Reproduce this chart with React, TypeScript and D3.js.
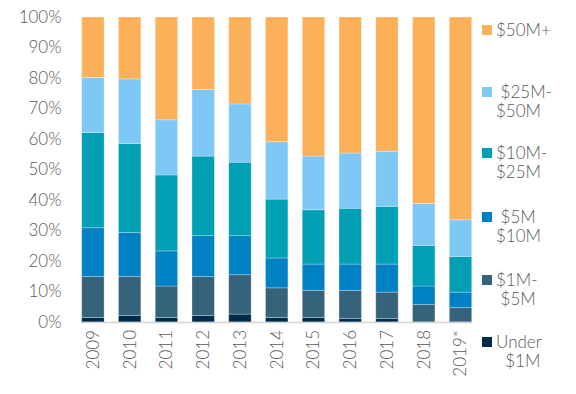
import React from "react";
import { scaleBand, scaleLinear, stack } from "d3";

const years = ["2009", "2010", "2011", "2012", "2013", "2014", "2015", "2016", "2017", "2018", "2019*"];
const keys = ["under1", "m1to5", "m5to10", "m10to25", "m25to50", "m50plus"];

// share of deals per size bucket, in %
const under1 = [1.5, 2.1, 1.5, 2.1, 2.6, 1.5, 1.5, 1.1, 1.1, 0, 0];
const m1to5 = [13.4, 12.8, 10.3, 12.8, 12.9, 9.7, 8.9, 9.3, 8.7, 5.7, 4.7];
const m5to10 = [16.0, 14.4, 11.5, 13.4, 12.8, 9.8, 8.6, 8.6, 9.2, 6.1, 5.1];
const m10to25 = [31.2, 29.2, 24.9, 26.1, 24.1, 19.3, 17.8, 18.3, 18.9, 13.3, 11.7];
const m25to50 = [18.1, 21.2, 18.1, 21.8, 19.1, 18.8, 17.6, 18.1, 18.1, 13.8, 12.0];
const m50plus = [19.8, 20.3, 33.7, 23.8, 28.5, 40.9, 45.6, 44.6, 44.0, 61.1, 66.5];

const colors = ["#002B4A", "#36637C", "#0081C3", "#009FB4", "#7EC8F5", "#FDB05A"];
const legendLines = [
  ["Under", "  $1M"],
  ["$1M-", " $5M"],
  [" $5M", "$10M"],
  ["$10M-", "$25M"],
  [" $25M-", "$50M"],
  ["$50M+"],
];
const yTicks = [0, 10, 20, 30, 40, 50, 60, 70, 80, 90, 100];

const textColor = "#58595B";
const font = "Lato, 'Open Sans', sans-serif";
const fs = 17;

export default function App() {
  const width = 576;
  const height = 394;

  const rows = years.map((y, i) => ({
    year: y,
    under1: under1[i],
    m1to5: m1to5[i],
    m5to10: m5to10[i],
    m10to25: m10to25[i],
    m25to50: m25to50[i],
    m50plus: m50plus[i],
  }));
  const series = stack<any>().keys(keys)(rows);

  const x = scaleBand().domain(years).range([81.7, 471.7]).paddingInner(0.39).paddingOuter(0);
  const y = scaleLinear().domain([0, 100]).range([322, 17]);

  const legendY = [342, 280, 217, 153, 92, 30];

  return (
    <svg width={width} height={height} style={{ position: "absolute", left: 0, top: 0, fontFamily: font, fontWeight: 300 }}>
      <rect width={width} height={height} fill="#fff" />
      {series.map((s, si) => (
        <g key={s.key} fill={colors[si]}>
          {s.map((d, i) => {
            const h = y(d[0]) - y(d[1]);
            if (h <= 0) return null;
            return (
              <rect
                key={i}
                x={x(years[i])}
                y={y(d[1])}
                width={x.bandwidth()}
                height={h}
                stroke="#ffffff"
                strokeOpacity={0.35}
                strokeWidth={0.8}
              />
            );
          })}
        </g>
      ))}
      <line x1={81} x2={472} y1={y(0) + 0.5} y2={y(0) + 0.5} stroke="#d4d4d4" strokeWidth={1.5} />
      {yTicks.map((t) => (
        <text key={t} x={61.5} y={y(t)} dy="0.35em" textAnchor="end" fontSize={fs} fill={textColor}>
          {t}%
        </text>
      ))}
      {years.map((yr) => (
        <text
          key={yr}
          transform={`translate(${(x(yr) ?? 0) + x.bandwidth() / 2},${330}) rotate(-90)`}
          dy="0.35em"
          textAnchor="end"
          fontSize={fs}
          fill={textColor}
        >
          {yr}
        </text>
      ))}
      {legendLines.map((lines, i) => (
        <g key={i}>
          <rect x={482} y={legendY[i] - 5} width={10} height={10} fill={colors[i]} />
          {lines.map((ln, j) => (
            <text
              key={j}
              x={496}
              y={legendY[i] + j * 19.5}
              dy="0.35em"
              fontSize={fs}
              fill={textColor}
              style={{ whiteSpace: "pre" }}
            >
              {ln}
            </text>
          ))}
        </g>
      ))}
    </svg>
  );
}
